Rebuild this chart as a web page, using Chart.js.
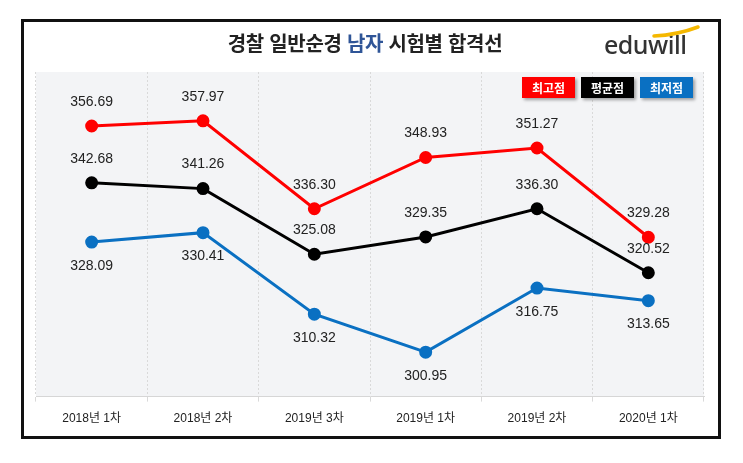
<!DOCTYPE html>
<html lang="ko">
<head>
<meta charset="utf-8">
<title>경찰 일반순경 남자 시험별 합격선</title>
<script src="https://cdn.jsdelivr.net/npm/chart.js@4/dist/chart.umd.min.js"></script>
<style>
  html, body { margin: 0; padding: 0; background: #fff; }
  #wrap { position: relative; width: 743px; height: 463px; overflow: hidden; }
  #chart { position: absolute; left: 0; top: 0; }
  #frame {
    position: absolute; left: 21px; top: 19px; width: 700px; height: 420px;
    box-sizing: border-box; border: 3px solid #111; pointer-events: none;
  }
  #title {
    position: absolute; left: 0; width: 730px; top: 28px; text-align: center;
    font: bold 20px "Noto Sans CJK KR", sans-serif; color: #222; letter-spacing: -0.3px;
  }
  #title .blue { color: #2f5597; }
  #logo {
    position: absolute; left: 604px; top: 27px;
    font: 500 25px "Noto Sans", "DejaVu Sans", sans-serif; color: #333; letter-spacing: -0.5px;
  }
  #swoosh { position: absolute; left: 652px; top: 25px; }
</style>
</head>
<body>
<div id="wrap">
  <canvas id="chart" width="743" height="463"></canvas>
  <div id="frame"></div>
  <div id="title">경찰 일반순경 <span class="blue">남자</span> 시험별 합격선</div>
  <div id="logo">eduwill</div>
  <svg id="swoosh" width="50" height="14" viewBox="0 0 50 14">
    <path d="M2 11 Q 25 10 46 2" stroke="#f5b800" stroke-width="3.5" fill="none" stroke-linecap="round"/>
  </svg>
</div>
<script>
// 시험 회차
const labels = ['2018년 1차', '2018년 2차', '2019년 3차', '2019년 1차', '2019년 2차', '2020년 1차'];
// 합격선 데이터
const highScores = [356.69, 357.97, 336.30, 348.93, 351.27, 329.28];
const avgScores  = [342.68, 341.26, 325.08, 329.35, 336.30, 320.52];
const lowScores  = [328.09, 330.41, 310.32, 300.95, 316.75, 313.65];
// 범례
const legendNames  = ['최고점', '평균점', '최저점'];
const legendColors = ['#ff0000', '#000000', '#0a70c2'];

// 플롯 영역 배경
const plotBg = {
    id: 'plotBg',
    beforeDraw(chart) {
        const { ctx, chartArea: a } = chart;
        ctx.save();
        ctx.fillStyle = '#f3f4f6';
        ctx.fillRect(a.left, a.top, a.right - a.left, a.bottom - a.top);
        ctx.restore();
    }
};

// 값 라벨 (위/아래)
const valueLabels = {
    id: 'valueLabels',
    afterDatasetsDraw(chart) {
        const ctx = chart.ctx;
        ctx.save();
        ctx.font = '14px "Liberation Sans", Arial, sans-serif';
        ctx.fillStyle = '#222';
        ctx.textAlign = 'center';
        ctx.textBaseline = 'middle';
        chart.data.datasets.forEach((ds, i) => {
            const meta = chart.getDatasetMeta(i);
            meta.data.forEach((pt, j) => {
                const dy = ds.labelBelow ? 24 : -24;
                ctx.fillText(ds.data[j].toFixed(2), pt.x, pt.y + dy);
            });
        });
        ctx.restore();
    }
};

// 범례 박스
const legendBoxes = {
    id: 'legendBoxes',
    afterDraw(chart) {
        const ctx = chart.ctx;
        const w = 53, h = 21, gap = 6;
        let x = chart.chartArea.right - 11 - legendNames.length * w - (legendNames.length - 1) * gap;
        const y = chart.chartArea.top + 5;
        ctx.save();
        legendNames.forEach((name, i) => {
            ctx.shadowColor = 'rgba(0,0,0,0.35)';
            ctx.shadowOffsetX = 2;
            ctx.shadowOffsetY = 2;
            ctx.shadowBlur = 3;
            ctx.fillStyle = legendColors[i];
            ctx.fillRect(x, y, w, h);
            ctx.shadowColor = 'transparent';
            ctx.fillStyle = '#fff';
            ctx.font = 'bold 12px "Noto Sans CJK KR", sans-serif';
            ctx.textAlign = 'center';
            ctx.textBaseline = 'middle';
            ctx.fillText(name, x + w / 2, y + h / 2 + 1);
            x += w + gap;
        });
        ctx.restore();
    }
};

function makeSet(label, data, color, below) {
    return {
        label: label,
        data: data,
        borderColor: color,
        backgroundColor: color,
        pointBackgroundColor: color,
        pointBorderColor: color,
        borderWidth: 3,
        pointRadius: 5,
        tension: 0,
        labelBelow: below
    };
}

const ctx = document.getElementById('chart').getContext('2d');
new Chart(ctx, {
    type: 'line',
    data: {
        labels: labels,
        datasets: [
            makeSet('최고점', highScores, legendColors[0], false),
            makeSet('평균점', avgScores, legendColors[1], false),
            makeSet('최저점', lowScores, legendColors[2], true)
        ]
    },
    options: {
        responsive: false,
        animation: false,
        devicePixelRatio: 1,
        layout: { padding: { left: 36, right: 39, top: 72, bottom: 27 } },
        plugins: {
            legend: { display: false },
            tooltip: { enabled: false }
        },
        scales: {
            x: {
                offset: true,
                grid: { offset: true, color: '#d9d9d9', tickLength: 5, tickColor: '#d9d9d9' },
                border: { display: true, color: '#d6d6d6', width: 1, dash: [2, 2] },
                ticks: {
                    padding: 10,
                    color: '#222',
                    font: { size: 12, family: '"Liberation Sans", "Noto Sans CJK KR", sans-serif' }
                }
            },
            y: {
                display: false,
                min: 290,
                max: 370
            }
        }
    },
    plugins: [plotBg, valueLabels, legendBoxes]
});
</script>
</body>
</html>
